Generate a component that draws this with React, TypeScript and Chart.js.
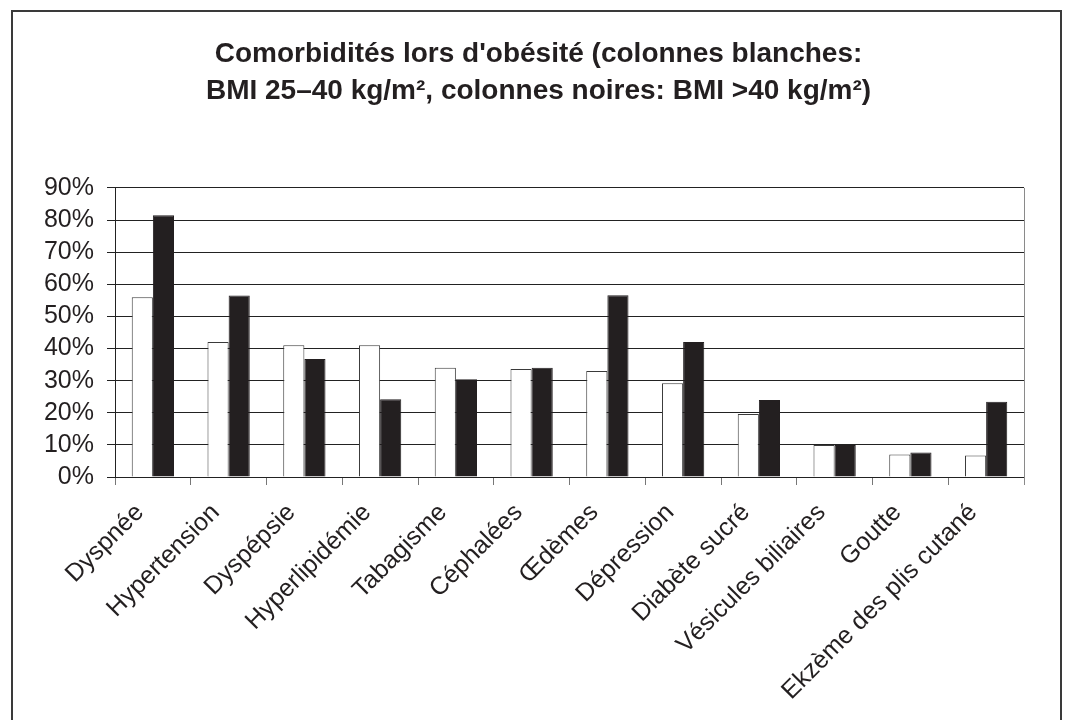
import React, { useEffect, useRef } from "react";
import { Chart, registerables } from "chart.js";

Chart.register(...registerables);

const categories = [
  "Dyspnée",
  "Hypertension",
  "Dyspépsie",
  "Hyperlipidémie",
  "Tabagisme",
  "Céphalées",
  "Œdèmes",
  "Dépression",
  "Diabète sucré",
  "Vésicules biliaires",
  "Goutte",
  "Ekzème des plis cutané",
];

const bmi25to40 = [56, 42, 41, 41, 34, 33.6, 33, 29.2, 19.6, 10, 7, 6.7];
const bmiOver40 = [81.5, 56.5, 36.7, 24.2, 30.4, 34, 56.6, 42, 24, 10, 7.6, 23.4];

const yMin = 0;
const yMax = 90;
const yStep = 10;

const titleLines = [
  "Comorbidités lors d'obésité (colonnes blanches:",
  "BMI 25–40 kg/m², colonnes noires: BMI >40 kg/m²)",
];

const FONT = "'Liberation Sans', Arial, Helvetica, sans-serif";
const INK = "#231f20";

const rightBorderPlugin = {
  id: "rightBorder",
  afterDatasetsDraw(chart: any) {
    const { ctx, chartArea } = chart;
    ctx.save();
    ctx.strokeStyle = "#8a8a8a";
    ctx.lineWidth = 1;
    ctx.beginPath();
    ctx.moveTo(Math.round(chartArea.right) + 0.5, chartArea.top);
    ctx.lineTo(Math.round(chartArea.right) + 0.5, chartArea.bottom + 8);
    ctx.stroke();
    ctx.restore();
  },
};

export default function App() {
  const canvasRef = useRef<HTMLCanvasElement | null>(null);

  useEffect(() => {
    if (!canvasRef.current) return;
    const chart = new Chart(canvasRef.current, {
      type: "bar",
      data: {
        labels: categories,
        datasets: [
          {
            label: "BMI 25–40 kg/m²",
            data: bmi25to40,
            backgroundColor: "#ffffff",
            borderColor: "#3a3a3a",
            borderWidth: 1,
            categoryPercentage: 0.558,
            barPercentage: 1,
          },
          {
            label: "BMI >40 kg/m²",
            data: bmiOver40,
            backgroundColor: INK,
            borderColor: INK,
            borderWidth: 1,
            categoryPercentage: 0.558,
            barPercentage: 1,
          },
        ],
      },
      options: {
        responsive: false,
        animation: false,
        layout: { padding: { left: 10, right: 0, top: 0, bottom: 0 } },
        plugins: {
          legend: { display: false },
          tooltip: { enabled: false },
          title: {
            display: true,
            text: titleLines,
            color: INK,
            font: { family: FONT, size: 28, weight: "bold", lineHeight: 1.32 },
            padding: { top: 36, bottom: 78 },
          },
        },
        scales: {
          x: {
            grid: {
              display: true,
              drawOnChartArea: false,
              drawTicks: true,
              tickLength: 8,
              color: "#777",
              offset: true,
            },
            border: { display: true, color: "#222", width: 1 },
            ticks: {
              color: INK,
              font: { family: FONT, size: 25 },
              maxRotation: 45,
              minRotation: 45,
              autoSkip: false,
              padding: 13,
              labelOffset: -13,
            },
            afterFit(scale: any) {
              scale.height = 243;
            },
          },
          y: {
            min: yMin,
            max: yMax,
            grid: {
              color: "#222",
              lineWidth: 1,
              drawTicks: true,
              tickLength: 8,
            },
            border: { display: true, color: "#222", width: 1 },
            ticks: {
              stepSize: yStep,
              autoSkip: false,
              color: INK,
              padding: 13,
              font: { family: FONT, size: 25 },
              callback: (v: any) => `${v}%`,
            },
            afterFit(scale: any) {
              scale.width = 105;
            },
          },
          spacer: {
            type: "linear",
            position: "right",
            display: true,
            grid: { display: false },
            border: { display: false },
            ticks: { display: false },
            afterFit(scale: any) {
              scale.width = 43;
            },
          },
        },
      },
      plugins: [rightBorderPlugin],
    });
    return () => chart.destroy();
  }, []);

  return (
    <div
      style={{
        position: "absolute",
        left: 0,
        top: 0,
        width: 1067,
        height: 720,
        background: "#fff",
        overflow: "hidden",
      }}
    >
      <div
        style={{
          position: "absolute",
          left: 11,
          top: 10,
          width: 1051,
          height: 730,
          border: "2px solid #3a3a3a",
          boxSizing: "border-box",
        }}
      />
      <canvas
        ref={canvasRef}
        width={1067}
        height={720}
        style={{ position: "absolute", left: 0, top: 0, width: 1067, height: 720 }}
      />
    </div>
  );
}
